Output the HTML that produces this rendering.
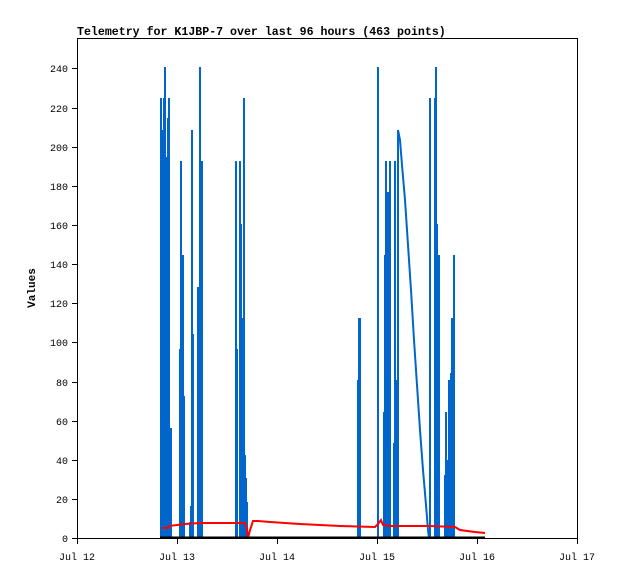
<!DOCTYPE html>
<html><head><meta charset="utf-8"><style>
html,body{margin:0;padding:0;background:#fff;}
svg{display:block;font-family:"Liberation Mono","DejaVu Sans Mono",monospace;}
</style></head><body>
<svg width="618" height="579" viewBox="0 0 618 579" xmlns="http://www.w3.org/2000/svg">
<rect width="618" height="579" fill="#fff"/>
<text x="77" y="35" font-size="11.6" font-weight="bold" fill="#000">Telemetry for K1JBP-7 over last 96 hours (463 points)</text>
<rect x="77.5" y="38.5" width="500" height="500" fill="none" stroke="#000" stroke-width="1"/>
<g stroke="#000" stroke-width="1">
<line x1="72" y1="538.5" x2="77" y2="538.5"/><line x1="72" y1="499.5" x2="77" y2="499.5"/><line x1="72" y1="460.5" x2="77" y2="460.5"/><line x1="72" y1="421.5" x2="77" y2="421.5"/><line x1="72" y1="382.5" x2="77" y2="382.5"/><line x1="72" y1="342.5" x2="77" y2="342.5"/><line x1="72" y1="303.5" x2="77" y2="303.5"/><line x1="72" y1="264.5" x2="77" y2="264.5"/><line x1="72" y1="225.5" x2="77" y2="225.5"/><line x1="72" y1="186.5" x2="77" y2="186.5"/><line x1="72" y1="147.5" x2="77" y2="147.5"/><line x1="72" y1="108.5" x2="77" y2="108.5"/><line x1="72" y1="68.5" x2="77" y2="68.5"/>
<line x1="77.5" y1="538" x2="77.5" y2="544"/><line x1="177.5" y1="538" x2="177.5" y2="544"/><line x1="277.5" y1="538" x2="277.5" y2="544"/><line x1="377.5" y1="538" x2="377.5" y2="544"/><line x1="477.5" y1="538" x2="477.5" y2="544"/><line x1="577.5" y1="538" x2="577.5" y2="544"/>
</g>
<g font-size="10" fill="#000" text-anchor="end">
<text x="68" y="542">0</text><text x="68" y="503">20</text><text x="68" y="464">40</text><text x="68" y="425">60</text><text x="68" y="386">80</text><text x="68" y="346">100</text><text x="68" y="307">120</text><text x="68" y="268">140</text><text x="68" y="229">160</text><text x="68" y="190">180</text><text x="68" y="151">200</text><text x="68" y="112">220</text><text x="68" y="72">240</text>
</g>
<g font-size="10" fill="#000" text-anchor="middle">
<text x="77" y="560">Jul 12</text><text x="177" y="560">Jul 13</text><text x="277" y="560">Jul 14</text><text x="377" y="560">Jul 15</text><text x="477" y="560">Jul 16</text><text x="577" y="560">Jul 17</text>
</g>
<text x="35" y="288" font-size="11" font-weight="bold" text-anchor="middle" transform="rotate(-90 35 288)">Values</text>
<g fill="#0066cc">
<rect x="160" y="98" width="2" height="440"/><rect x="162" y="130" width="1" height="408"/><rect x="163" y="98" width="1" height="440"/><rect x="164" y="67" width="2" height="471"/><rect x="166" y="157" width="1" height="381"/><rect x="167" y="118" width="1" height="420"/><rect x="168" y="98" width="2" height="440"/><rect x="169" y="208" width="1" height="330"/><rect x="170" y="428" width="2" height="110"/>
<rect x="179" y="349" width="2" height="189"/><rect x="180" y="161" width="2" height="377"/><rect x="182" y="255" width="2" height="283"/><rect x="184" y="396" width="1" height="142"/>
<rect x="189" y="522" width="2" height="16"/><rect x="190" y="506" width="2" height="32"/><rect x="191" y="130" width="2" height="408"/><rect x="192" y="334" width="2" height="204"/>
<rect x="197" y="287" width="2" height="251"/><rect x="199" y="67" width="2" height="471"/><rect x="201" y="161" width="2" height="377"/>
<rect x="235" y="161" width="2" height="377"/><rect x="237" y="349" width="1" height="189"/><rect x="239" y="161" width="2" height="377"/><rect x="240" y="224" width="2" height="314"/><rect x="242" y="318" width="1" height="220"/><rect x="243" y="98" width="2" height="440"/><rect x="245" y="455" width="1" height="83"/><rect x="246" y="478" width="1" height="60"/><rect x="247" y="502" width="1" height="36"/>
<rect x="357" y="380" width="2" height="158"/><rect x="358" y="318" width="3" height="220"/>
<rect x="377" y="67" width="2" height="471"/>
<rect x="383" y="412" width="2" height="126"/><rect x="384" y="255" width="2" height="283"/><rect x="385" y="161" width="2" height="377"/><rect x="387" y="192" width="2" height="346"/><rect x="388" y="224" width="2" height="314"/><rect x="389" y="161" width="2" height="377"/>
<rect x="393" y="443" width="2" height="95"/><rect x="394" y="161" width="2" height="377"/><rect x="396" y="380" width="2" height="158"/><rect x="397" y="130" width="2" height="408"/>
<rect x="429" y="98" width="2" height="440"/><rect x="434" y="98" width="2" height="440"/><rect x="435" y="67" width="2" height="471"/><rect x="436" y="224" width="2" height="314"/><rect x="438" y="255" width="2" height="283"/>
<rect x="444" y="475" width="2" height="63"/><rect x="445" y="412" width="2" height="126"/><rect x="446" y="460" width="2" height="78"/><rect x="448" y="380" width="2" height="158"/><rect x="450" y="373" width="2" height="165"/><rect x="451" y="318" width="2" height="220"/><rect x="453" y="255" width="2" height="283"/><rect x="454" y="397" width="1" height="141"/>
</g>
<polyline points="398,130 400,140 402,165 405,200 408,245 411,290 414,340 417,385 420,430 423,470 426,505 428,530 429,538" fill="none" stroke="#0066cc" stroke-width="2"/>
<polyline points="162,528 168,528 169,526 177,525 185,524 200,523 245,523 247,530 248,538 250,530 253,521 258,521 270,522 300,524 340,526 375,527 378,524 381,520 383,525 390,526 400,526 430,526 455,527 460,530 475,532 485,533" fill="none" stroke="#ff0000" stroke-width="2"/>
<line x1="160" y1="537.5" x2="485" y2="537.5" stroke="#000" stroke-width="2"/>
</svg>
</body></html>
